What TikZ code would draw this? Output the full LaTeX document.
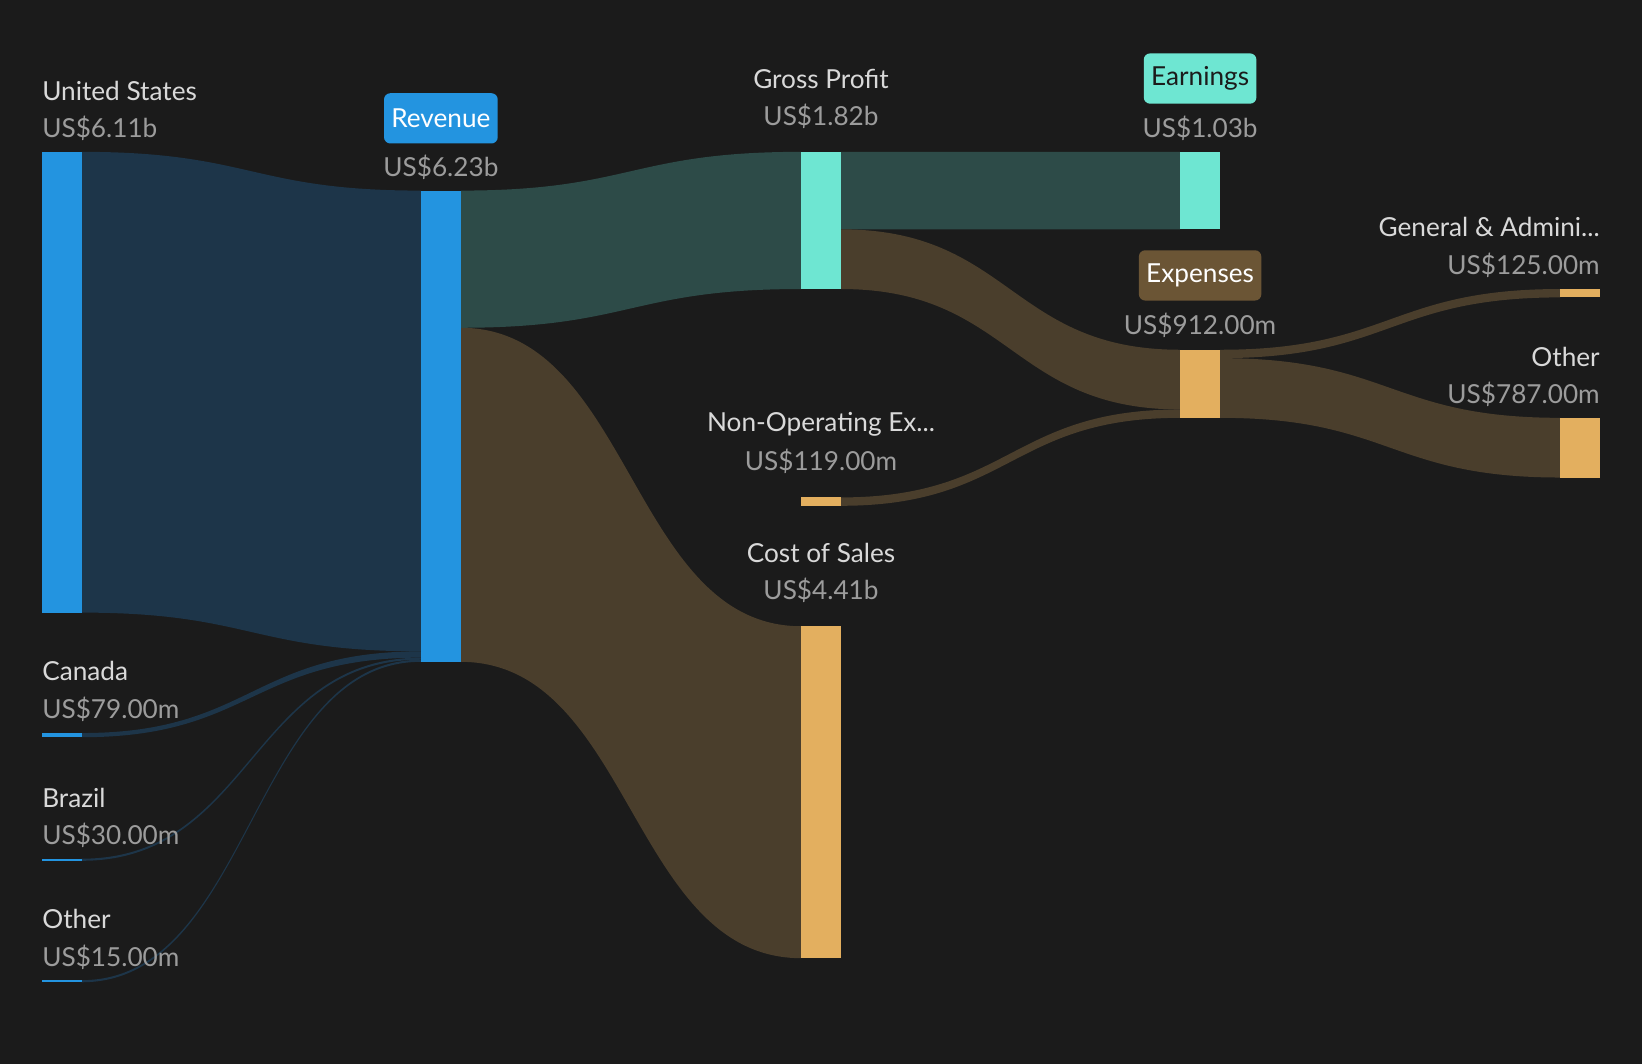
\documentclass[tikz,border=0pt]{standalone}
\usepackage{fontspec}
\setmainfont{Lato}
\begin{document}
\begin{tikzpicture}[x=0.5pt,y=-0.5pt,
  lbl/.style={text=namec,font=\fontsize{12.5}{14}\selectfont,inner sep=0},
  val/.style={text=valc,font=\fontsize{12.5}{14}\selectfont,inner sep=0},
  pill/.style={rounded corners=3pt,font=\fontsize{12.5}{14}\selectfont,inner xsep=3.5pt,inner ysep=4pt,minimum height=24pt}]
\definecolor{bg}{HTML}{1B1B1B}
\definecolor{namec}{HTML}{D9D9D9}
\definecolor{valc}{HTML}{9C9C9C}
\definecolor{blu}{HTML}{2394E0}
\definecolor{tealc}{HTML}{6EE6D2}
\definecolor{gold}{HTML}{E3AF5F}
\definecolor{fblu}{HTML}{1D3549}
\definecolor{fteal}{HTML}{2D4B48}
\definecolor{fbrn}{HTML}{4A3E2C}
\definecolor{pbrn}{HTML}{6B5535}
\newcommand{\fl}[7]{\fill[#7] (#1,#2) .. controls ({(#1+#4)/2},#2) and ({(#1+#4)/2},#5) .. (#4,#5) -- (#4,#6) .. controls ({(#1+#4)/2},#6) and ({(#1+#4)/2},#3) .. (#1,#3) -- cycle;}
\fill[bg] (0,0) rectangle (1568,1016);
\useasboundingbox (0,0) rectangle (1568,1016);
% flows
\fl{78}{145}{585}{402}{182}{622}{fblu}
\fl{78}{700}{704}{402}{622}{628}{fblu}
\fl{78}{820}{822}{402}{628}{630}{fblu}
\fl{78}{936}{938}{402}{630}{632}{fblu}
\fl{440}{182}{313}{765}{145}{276}{fteal}
\fl{440}{313}{632}{765}{598}{915}{fbrn}
\fl{803}{145}{219}{1127}{145}{219}{fteal}
\fl{803}{219}{276}{1127}{334}{391}{fbrn}
\fl{803}{475}{483}{1127}{391}{399}{fbrn}
\fl{1165}{334}{342}{1490}{276}{284}{fbrn}
\fl{1165}{342}{399}{1490}{399}{456}{fbrn}
% bars
\fill[blu] (40,145) rectangle (78,585);
\fill[blu] (40,700) rectangle (78,704);
\fill[blu] (40,820) rectangle (78,822);
\fill[blu] (40,936) rectangle (78,938);
\fill[blu] (402,182) rectangle (440,632);
\fill[tealc] (765,145) rectangle (803,276);
\fill[gold] (765,475) rectangle (803,483);
\fill[gold] (765,598) rectangle (803,915);
\fill[tealc] (1127,145) rectangle (1165,219);
\fill[gold] (1127,334) rectangle (1165,399);
\fill[gold] (1490,276) rectangle (1528,284);
\fill[gold] (1490,399) rectangle (1528,456);
% labels
\node[lbl,anchor=west] (l1) at (40,87) {United States};
\node[val,anchor=west] (v1) at (40,123) {US\$6.11b};
\node[lbl,anchor=west] (l2) at (40,641) {Canada};
\node[val,anchor=west] (v2) at (40,677) {US\$79.00m};
\node[lbl,anchor=west] (l3) at (40,762) {Brazil};
\node[val,anchor=west] (v3) at (40,798) {US\$30.00m};
\node[lbl,anchor=west] (l4) at (40,878) {Other};
\node[val,anchor=west] (v4) at (40,914) {US\$15.00m};
\node[pill,fill=blu,text=white] (l5) at (421,113) {Revenue};
\node[val] (v5) at (421,160) {US\$6.23b};
\node[lbl] (l6) at (784,75) {Gross Profit};
\node[val] (v6) at (784,111) {US\$1.82b};
\node[lbl] (l7) at (784,405) {Non-Operating Ex...};
\node[val] (v7) at (784,441) {US\$119.00m};
\node[lbl] (l8) at (784,528) {Cost of Sales};
\node[val] (v8) at (784,564) {US\$4.41b};
\node[pill,fill=tealc,text=bg] (l9) at (1146,75) {Earnings};
\node[val] (v9) at (1146,123) {US\$1.03b};
\node[pill,fill=pbrn,text=white] (l10) at (1146,263) {Expenses};
\node[val] (v10) at (1146,311) {US\$912.00m};
\node[lbl,anchor=east] (l11) at (1528,217) {General \& Admini...};
\node[val,anchor=east] (v11) at (1528,253) {US\$125.00m};
\node[lbl,anchor=east] (l12) at (1528,341) {Other};
\node[val,anchor=east] (v12) at (1528,377) {US\$787.00m};
\end{tikzpicture}
\end{document}
